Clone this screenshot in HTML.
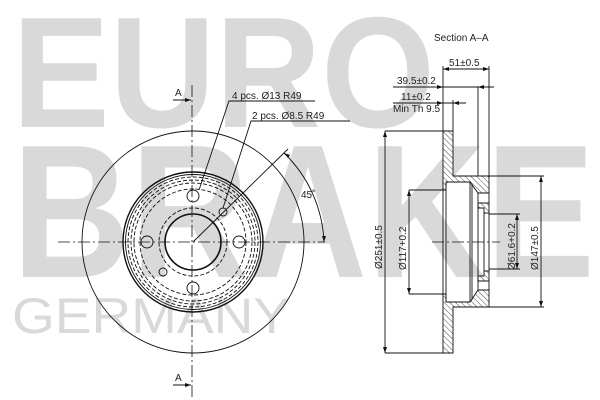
<!DOCTYPE html>
<html><head><meta charset="utf-8"><style>
html,body{margin:0;padding:0;background:#fff;}
svg{display:block;}
text{font-family:"Liberation Sans",sans-serif;}
</style></head><body>
<svg width="600" height="400" viewBox="0 0 600 400" xmlns="http://www.w3.org/2000/svg">
<defs>
<pattern id="h" patternUnits="userSpaceOnUse" width="4" height="4" patternTransform="rotate(-45)">
<rect width="4" height="4" fill="#fff"/><line x1="0" y1="0" x2="0" y2="4" stroke="#222" stroke-width="0.8"/>
</pattern>
</defs>
<!-- watermark -->
<g fill="#d9d9d9">
<text x="12" y="127" font-size="158" font-weight="bold" textLength="423" lengthAdjust="spacingAndGlyphs">EURO</text>
<text x="12" y="277" font-size="190" font-weight="bold" textLength="583" lengthAdjust="spacingAndGlyphs">BRAKE</text>
<text x="12" y="333" font-size="50" textLength="278" lengthAdjust="spacingAndGlyphs">GERMANY</text>
</g>
<g fill="none" stroke="#111" stroke-width="0.9">
<!-- front view -->
<circle cx="193" cy="242" r="111"/>
<circle cx="193" cy="242" r="70" stroke-width="1.4"/>
<circle cx="193" cy="242" r="67.5"/>
<circle cx="193" cy="242" r="65" stroke-dasharray="4 2"/>
<circle cx="193" cy="242" r="62" stroke-dasharray="4 2"/>
<circle cx="193" cy="242" r="59" stroke-dasharray="4 2"/>
<circle cx="193" cy="242" r="53" stroke-dasharray="4 2"/>
<circle cx="193" cy="242" r="34" stroke-dasharray="4 2"/>
<circle cx="193" cy="242" r="28" stroke-width="1.6"/>
<circle cx="193" cy="196" r="6"/><circle cx="193" cy="288" r="6"/>
<circle cx="147" cy="242" r="6"/><circle cx="239" cy="242" r="6"/>
<circle cx="223" cy="212" r="4"/><circle cx="163" cy="272" r="4"/>
<line x1="192" y1="85" x2="192" y2="400" stroke-dasharray="12 3 2 3" stroke-width="0.8"/>
<line x1="58" y1="242" x2="325" y2="242" stroke-dasharray="12 3 2 3" stroke-width="0.8"/>
<line x1="173" y1="100" x2="191" y2="100"/>
<line x1="173" y1="385" x2="191" y2="385"/>
<polyline points="315,101 229,101 199,190"/>
<polyline points="350,121 251,121 223,208"/>
<line x1="193" y1="242" x2="288" y2="149"/>
<path d="M284,153 A131,131 0 0 1 324,242"/>
<!-- section -->
<line x1="443" y1="66" x2="443" y2="131"/>
<line x1="489" y1="66" x2="489" y2="176"/>
<line x1="443" y1="69" x2="489" y2="69"/>
<line x1="393" y1="87" x2="494" y2="87"/>
<line x1="478" y1="87" x2="478" y2="190"/>
<line x1="393" y1="103" x2="466" y2="103"/>
<line x1="453" y1="100" x2="453" y2="131"/>
<!-- hatched parts -->
<path d="M443,131 H453 V176 H489 V193 H478 L470,182 H446 V190 H443 Z" fill="url(#h)"/>
<path d="M443,353 H453 V307 H489 V290 H478 L470,302 H446 V294 H443 Z" fill="url(#h)"/>
<path d="M478,203 H489 V213 H484 V208 H478 Z" fill="url(#h)"/>
<path d="M478,281 H489 V271 H484 V276 H478 Z" fill="url(#h)"/>
<line x1="443" y1="190" x2="443" y2="294"/>
<line x1="446" y1="182" x2="446" y2="302"/>
<line x1="470" y1="182" x2="470" y2="302"/>
<line x1="472" y1="184" x2="472" y2="300"/>
<line x1="478" y1="193" x2="478" y2="291"/>
<line x1="489" y1="193" x2="489" y2="203"/>
<line x1="489" y1="213" x2="489" y2="271"/>
<line x1="489" y1="281" x2="489" y2="290"/>
<line x1="484" y1="213" x2="484" y2="271"/>
<line x1="432" y1="242" x2="500" y2="242" stroke-dasharray="12 3 2 3" stroke-width="0.8"/>
<!-- diameter dims -->
<line x1="385" y1="131" x2="443" y2="131"/><line x1="385" y1="353" x2="443" y2="353"/>
<line x1="385" y1="131" x2="385" y2="353"/>
<line x1="409" y1="190" x2="446" y2="190"/><line x1="409" y1="294" x2="446" y2="294"/>
<line x1="409" y1="190" x2="409" y2="294"/>
<line x1="489" y1="214" x2="520" y2="214"/><line x1="489" y1="269" x2="520" y2="269"/>
<line x1="517" y1="214" x2="517" y2="269"/>
<line x1="489" y1="176" x2="544" y2="176"/><line x1="489" y1="307" x2="544" y2="307"/>
<line x1="541" y1="176" x2="541" y2="307"/>
</g>
<g fill="#111">
<polygon points="191,100 185,98 185,102"/><polygon points="191,385 185,383 185,387"/>
<polygon points="443,69 449,67 449,71"/><polygon points="489,69 483,67 483,71"/>
<polygon points="443,87 437,85 437,89"/><polygon points="478,87 484,85 484,89"/>
<polygon points="443,103 437,101 437,105"/><polygon points="453,103 459,101 459,105"/>
<polygon points="385,131 383,137 387,137"/><polygon points="385,353 383,347 387,347"/>
<polygon points="409,190 407,196 411,196"/><polygon points="409,294 407,288 411,288"/>
<polygon points="517,214 515,220 519,220"/><polygon points="517,269 515,263 519,263"/>
<polygon points="541,176 539,182 543,182"/><polygon points="541,307 539,301 543,301"/>
<polygon points="324,242 322,236 326,236"/><polygon points="284,153 288,158 290,155"/>
</g>
<g fill="#222" font-size="10">
<text x="175" y="96">A</text><text x="175" y="381">A</text>
<text x="232" y="99">4 pcs. Ø13 R49</text>
<text x="252" y="119">2 pcs. Ø8.5 R49</text>
<text x="301" y="198">45˚</text>
<text x="434" y="41">Section A–A</text>
<text x="449" y="66">51±0.5</text>
<text x="397" y="84">39.5±0.2</text>
<text x="401" y="100">11±0.2</text>
<text x="393" y="112">Min  Th  9.5</text>
<text transform="translate(382,269) rotate(-90)">Ø251±0.5</text>
<text transform="translate(406,270) rotate(-90)">Ø117+0.2</text>
<text transform="translate(515,270) rotate(-90)">Ø61.6+0.2</text>
<text transform="translate(538,270) rotate(-90)">Ø147±0.5</text>
</g>
</svg>
</body></html>
